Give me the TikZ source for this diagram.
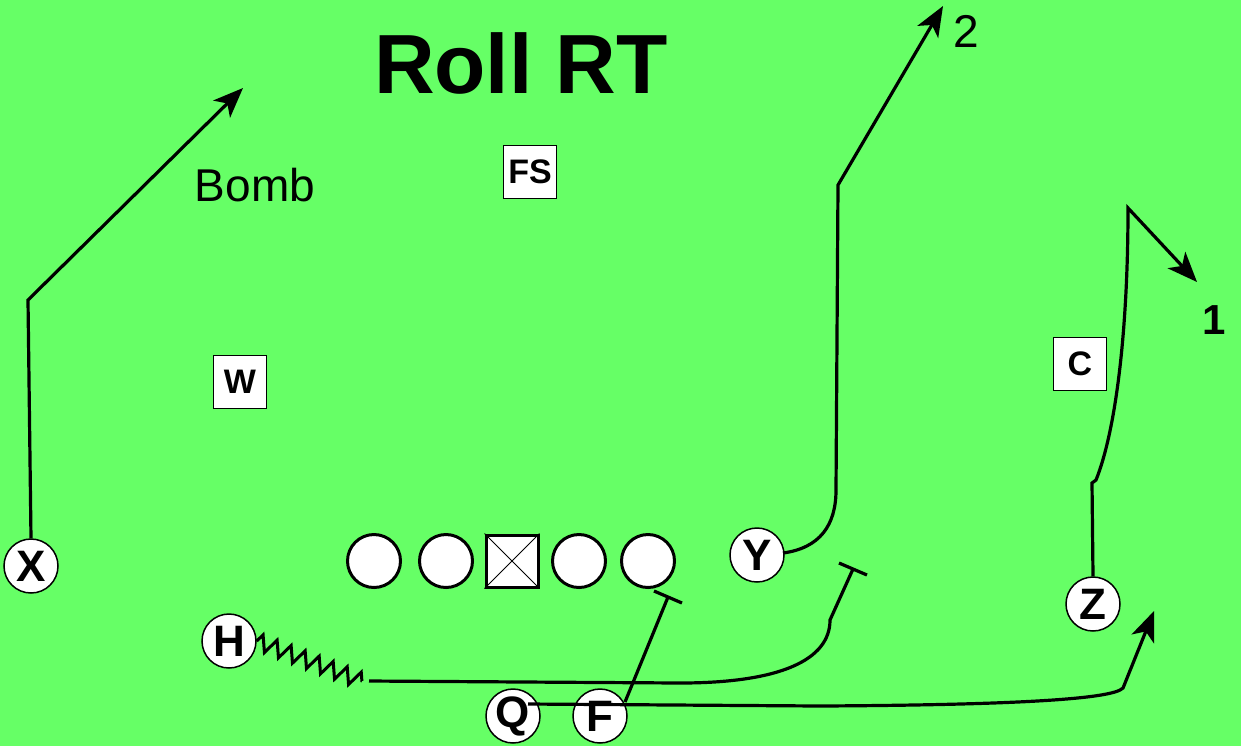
\documentclass[tikz,border=0pt]{standalone}
\usepackage{fontspec}
\setmainfont{Liberation Sans}
\usetikzlibrary{arrows.meta,decorations.pathmorphing}
\definecolor{field}{RGB}{102,255,102}
\begin{document}
\begin{tikzpicture}[x=0.5pt,y=-0.5pt,
  player/.style={circle,draw,fill=white,line width=0.75pt,minimum size=27pt,inner sep=0pt,font=\bfseries\fontsize{22}{22}\selectfont},
  lineman/.style={circle,draw,fill=white,line width=1.5pt,minimum size=26.5pt,inner sep=0pt},
  centerbox/.style={rectangle,draw,fill=white,line width=1.5pt,minimum size=26pt,inner sep=0pt},
  defender/.style={rectangle,draw,fill=white,line width=0.75pt,minimum size=26.5pt,inner sep=0pt,font=\bfseries\fontsize{17}{17}\selectfont},
  route/.style={line width=1.6pt},
  arr/.style={-{Stealth[length=15pt,width=12pt,inset=4pt]}},
  blockbar/.style={line width=1.6pt},
  wiggle/.style={line width=1.5pt,decorate,decoration={zigzag,segment length=7.5pt,amplitude=4pt}}
]
\fill[field] (0,0) rectangle (1241,746);
\useasboundingbox (0,0) rectangle (1241,746);

% texts
\node[font=\bfseries\fontsize{42}{42}\selectfont] (title) at (521,63) {Roll RT};
\node[font=\fontsize{23}{23}\selectfont] (bomb) at (255,185) {Bomb};
\node[font=\fontsize{23}{23}\selectfont] (two) at (966,31) {2};
\node[font=\bfseries\fontsize{21}{21}\selectfont] (one) at (1214,320) {1};

% defenders
\node[defender] (FS) at (530,172) {FS};
\node[defender] (W) at (240,382) {W};
\node[defender] (C) at (1080,364) {C};

% offensive line
\node[lineman] (LT) at (374,561) {};
\node[lineman] (LG) at (446,561) {};
\node[centerbox] (CT) at (512,561) {};
\draw[line width=0.5pt] (CT.north west) -- (CT.south east) (CT.north east) -- (CT.south west);
\node[lineman] (RG) at (579,561) {};
\node[lineman] (RT) at (648,561) {};

% skill players
\node[player] (X) at (31,566) {X};
\node[player] (Y) at (757,555) {Y};
\node[player] (H) at (229,641) {H};
\node[player] (Q) at (513,716) {Q};
\node[player] (F) at (600,716) {F};
\node[player] (Z) at (1093,604) {Z};

% route coordinates
\coordinate (x1) at (28,300);
\coordinate (x2) at (243,88);
\coordinate (y0) at (783,553);
\coordinate (y1) at (836,490);
\coordinate (y2) at (838,185);
\coordinate (y3) at (943,6);
\coordinate (z1) at (1092,483);
\coordinate (z2) at (1096,480);
\coordinate (z3) at (1128,208);
\coordinate (z4) at (1197,282);
\coordinate (h1) at (362,681);
\coordinate (h2) at (369,681);
\coordinate (h3) at (680,683);
\coordinate (h4) at (830,620);
\coordinate (h5) at (853,569);
\coordinate (hb1) at (839,563);
\coordinate (hb2) at (867,575);
\coordinate (f0) at (625,702);
\coordinate (f1) at (668,597);
\coordinate (fb1) at (654,591);
\coordinate (fb2) at (682,603);
\coordinate (q0) at (528,704);
\coordinate (q1) at (820,706);
\coordinate (q2) at (1123,688);
\coordinate (q3) at (1154,611);

% X bomb
\draw[route,arr] (X.north) -- (x1) -- (x2);
% Y route
\draw[route,arr] (y0) .. controls (820,548) and (836,525) .. (y1) -- (y2) -- (y3);
% Z route
\draw[route,arr] (Z.north) -- (z1) -- (z2) .. controls (1116,430) and (1128,330) .. (z3) -- (z4);
% H route
\draw[wiggle] (H.east) -- (h1);
\draw[route] (h2) -- (h3) .. controls (780,683) and (830,660) .. (h4) -- (h5);
\draw[blockbar] (hb1) -- (hb2);
% F block
\draw[route] (f0) -- (f1);
\draw[blockbar] (fb1) -- (fb2);
% Q route
\draw[route,arr] (q0) -- (q1) .. controls (1000,705) and (1112,700) .. (q2) -- (q3);
\end{tikzpicture}
\end{document}
